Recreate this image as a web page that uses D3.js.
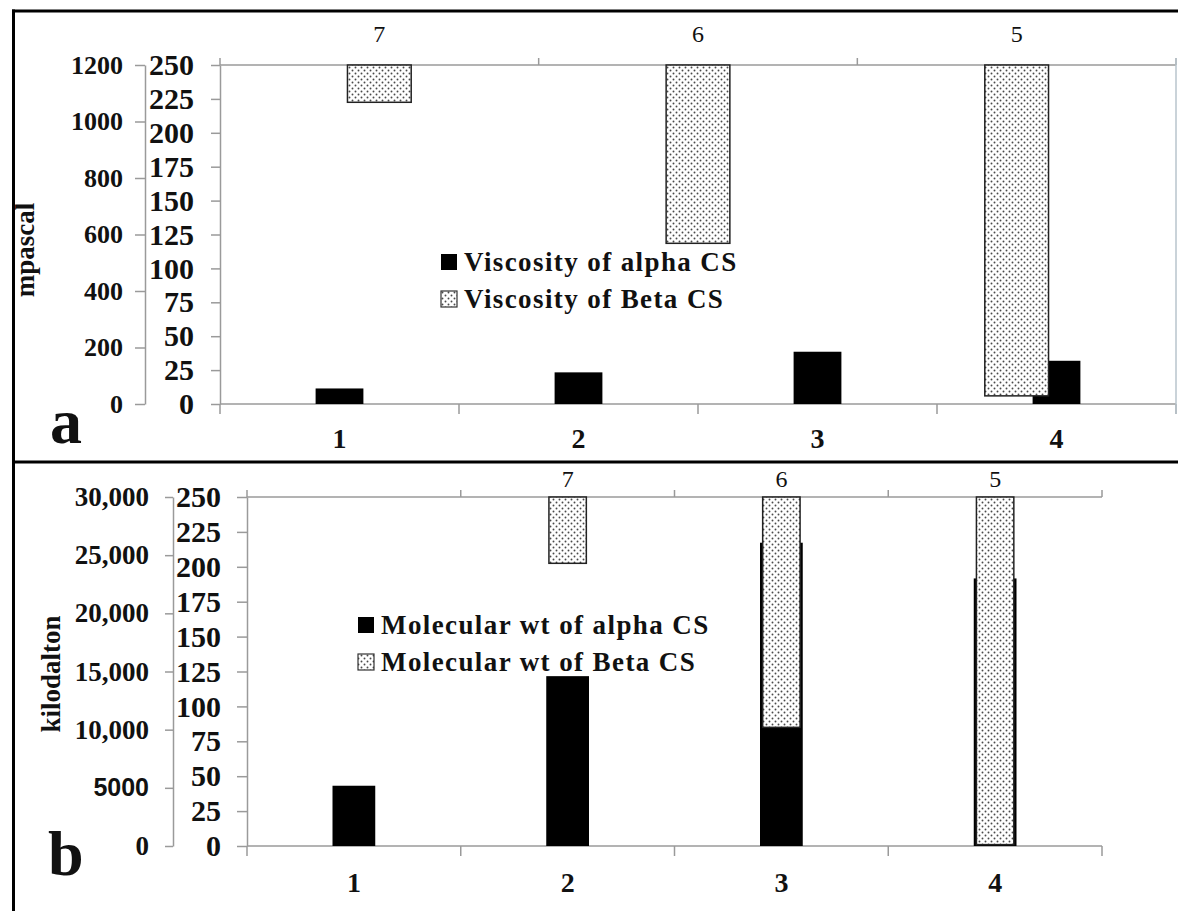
<!DOCTYPE html>
<html>
<head>
<meta charset="utf-8">
<script src="https://cdn.jsdelivr.net/npm/d3@7"></script>
<style>
  body { margin: 0; background: #fff; }
  svg text { font-family: "Liberation Serif", "Times New Roman", serif; fill: #111; }
</style>
</head>
<body>
<div id="chart"></div>
<script>
// bottom categories and secondary (top) categories
const categories = ["1", "2", "3", "4"];
const topCatsA = ["7", "6", "5"];
const topCatsB = ["", "7", "6", "5"];

// panel a: viscosity (mpascal for alpha, secondary reversed axis for beta)
const viscAlpha = [55, 112, 185, 153];
const viscBeta = [27.5, 131.5, 244];
const viscTicks = [0, 200, 400, 600, 800, 1000, 1200];
const viscLabels = ["0", "200", "400", "600", "800", "1000", "1200"];

// panel b: molecular weight (kilodalton)
const mwAlpha = [5180, 14600, 26070, 23000];
const mwBeta = [47.5, 165, 249];
const mwTicks = [0, 5000, 10000, 15000, 20000, 25000, 30000];
const mwLabels = ["0", "5000", "10,000", "15,000", "20,000", "25,000", "30,000"];

const innerTicks = d3.range(0, 251, 25);

const W = 1178, H = 911;
const axisColor = "#9a9a9a";

const svg = d3.select("#chart").append("svg")
    .attr("width", W)
    .attr("height", H);

// dotted fill for the beta bars
const pat = svg.append("defs").append("pattern")
    .attr("id", "dots")
    .attr("patternUnits", "userSpaceOnUse")
    .attr("width", 6)
    .attr("height", 6);
pat.append("rect").attr("width", 6).attr("height", 6).attr("fill", "#fff");
pat.append("circle").attr("cx", 1.5).attr("cy", 1.5).attr("r", 0.95).attr("fill", "#4a4a4a");
pat.append("circle").attr("cx", 4.5).attr("cy", 4.5).attr("r", 0.95).attr("fill", "#4a4a4a");

// frame
svg.append("line").attr("x1", 13.5).attr("x2", 13.5).attr("y1", 9.5).attr("y2", H)
    .attr("stroke", "#000").attr("stroke-width", 3);
svg.append("line").attr("x1", 12).attr("x2", W).attr("y1", 11).attr("y2", 11)
    .attr("stroke", "#000").attr("stroke-width", 3);
svg.append("line").attr("x1", 12).attr("x2", W).attr("y1", 462).attr("y2", 462)
    .attr("stroke", "#000").attr("stroke-width", 3);

function panel(cfg) {
    const g = svg.append("g");

    const x = d3.scaleBand().domain(categories).range([cfg.left, cfg.right]);
    const xTop = d3.scaleBand().domain(cfg.topCats).range([cfg.left, cfg.right]);
    const yOuter = d3.scaleLinear().domain([0, cfg.outerMax]).range([cfg.bottom, cfg.top]);
    const yInner = d3.scaleLinear().domain([0, 250]).range([cfg.bottom, cfg.top]);
    // secondary axis in reverse order: bars hang from the top
    const yBeta = d3.scaleLinear().domain([0, 250]).range([cfg.top, cfg.bottom]);

    // outer axis
    const outer = g.append("g")
        .attr("transform", "translate(" + cfg.outerX + ",0)")
        .call(d3.axisLeft(yOuter)
            .tickValues(cfg.outerTicks)
            .tickFormat((d, i) => cfg.outerLabels[i])
            .tickSize(cfg.outerTick)
            .tickSizeOuter(0)
            .tickPadding(cfg.outerPad));
    outer.selectAll("text")
        .style("font-size", cfg.outerFont + "px")
        .style("font-weight", "bold");
    outer.selectAll("text").filter(d => d === 5000)
        .style("font-family", "'Liberation Sans', Arial, sans-serif")
        .style("font-size", "25px");

    // inner axis
    const inner = g.append("g")
        .attr("transform", "translate(" + cfg.left + ",0)")
        .call(d3.axisLeft(yInner)
            .tickValues(innerTicks)
            .tickSize(cfg.innerTick)
            .tickSizeOuter(0)
            .tickPadding(cfg.innerPad));
    inner.selectAll("text")
        .style("font-size", "30px")
        .style("font-weight", "bold");

    g.selectAll(".domain, .tick line")
        .attr("stroke", axisColor)
        .attr("stroke-width", 1.5);

    // bottom axis: line, boundary ticks, centred labels
    g.append("line")
        .attr("x1", cfg.left).attr("x2", cfg.right)
        .attr("y1", cfg.bottom).attr("y2", cfg.bottom)
        .attr("stroke", axisColor).attr("stroke-width", 1.5);
    const bounds = categories.map(c => x(c)).concat([cfg.right]);
    g.selectAll(".btick").data(bounds).enter().append("line")
        .attr("x1", d => d).attr("x2", d => d)
        .attr("y1", cfg.bottom).attr("y2", cfg.bottom + 10)
        .attr("stroke", axisColor).attr("stroke-width", 1.5);
    g.selectAll(".blabel").data(categories).enter().append("text")
        .attr("x", d => x(d) + x.bandwidth() / 2)
        .attr("y", cfg.bottom + cfg.catDy)
        .attr("text-anchor", "middle")
        .style("font-size", "28px")
        .style("font-weight", "bold")
        .text(d => d);

    // top axis
    g.append("line")
        .attr("x1", cfg.left).attr("x2", cfg.right)
        .attr("y1", cfg.top).attr("y2", cfg.top)
        .attr("stroke", axisColor).attr("stroke-width", 1.5);
    const tBounds = cfg.topCats.map(c => xTop(c)).concat([cfg.right]);
    g.selectAll(".ttick").data(tBounds).enter().append("line")
        .attr("x1", d => d).attr("x2", d => d)
        .attr("y1", cfg.top).attr("y2", cfg.top - 7)
        .attr("stroke", axisColor).attr("stroke-width", 1.5);
    g.selectAll(".tlabel").data(cfg.topCats.filter(c => c !== "")).enter().append("text")
        .attr("x", d => xTop(d) + xTop.bandwidth() / 2)
        .attr("y", cfg.top - cfg.topDy)
        .attr("text-anchor", "middle")
        .style("font-size", "24px")
        .text(d => d);

    if (cfg.rightLine) {
        g.append("line")
            .attr("x1", cfg.right).attr("x2", cfg.right)
            .attr("y1", cfg.top - 7).attr("y2", cfg.bottom + 10)
            .attr("stroke", "#b8c4cc").attr("stroke-width", 1.5);
    }

    // alpha bars
    const aw = x.bandwidth() * 0.2;
    g.selectAll(".alpha").data(cfg.alpha).enter().append("rect")
        .attr("x", (d, i) => x(categories[i]) + x.bandwidth() / 2 - aw / 2)
        .attr("y", d => yOuter(d))
        .attr("width", aw)
        .attr("height", d => cfg.bottom - yOuter(d))
        .attr("fill", "#000");

    // beta bars on the secondary axes
    const betaCats = cfg.topCats.filter(c => c !== "");
    const bw = xTop.bandwidth() * cfg.betaFrac;
    g.selectAll(".beta").data(cfg.beta).enter().append("rect")
        .attr("x", (d, i) => xTop(betaCats[i]) + xTop.bandwidth() / 2 - bw / 2)
        .attr("y", cfg.top)
        .attr("width", bw)
        .attr("height", d => yBeta(d) - cfg.top)
        .attr("fill", "url(#dots)")
        .attr("stroke", "#222")
        .attr("stroke-width", 1.5);

    // legend
    const lg = g.append("g");
    cfg.legend.forEach((txt, i) => {
        const yy = cfg.legendY + i * 37;
        lg.append("rect")
            .attr("x", cfg.legendX).attr("y", yy - 17)
            .attr("width", 16).attr("height", 16)
            .attr("fill", i === 0 ? "#000" : "url(#dots)")
            .attr("stroke", i === 0 ? "none" : "#333")
            .attr("stroke-width", 1.2);
        lg.append("text")
            .attr("x", cfg.legendX + 23).attr("y", yy)
            .style("font-size", "27px")
            .style("font-weight", "bold")
            .style("letter-spacing", "1.4px")
            .text(txt);
    });

    // axis title
    g.append("text")
        .attr("transform", "translate(" + cfg.titleX + "," + cfg.titleY + ") rotate(-90)")
        .attr("text-anchor", "middle")
        .style("font-size", cfg.titleFont + "px")
        .style("font-weight", "bold")
        .text(cfg.title);

    // panel letter
    g.append("text")
        .attr("x", cfg.letterX).attr("y", cfg.letterY)
        .style("font-size", "64px")
        .style("font-weight", "bold")
        .text(cfg.letter);
}

panel({
    left: 220, right: 1176, top: 65, bottom: 404,
    outerX: 145, outerMax: 1200, outerTicks: viscTicks, outerLabels: viscLabels,
    outerTick: 10, outerPad: 12, outerFont: 26,
    innerTick: 9, innerPad: 17,
    topCats: topCatsA, alpha: viscAlpha, beta: viscBeta, betaFrac: 0.2,
    catDy: 44, topDy: 23, rightLine: true,
    legend: ["Viscosity of alpha CS", "Viscosity of Beta CS"],
    legendX: 441, legendY: 271,
    title: "mpascal", titleX: 34, titleY: 250, titleFont: 27,
    letter: "a", letterX: 50, letterY: 443
});

panel({
    left: 247, right: 1102, top: 497, bottom: 846,
    outerX: 173, outerMax: 30000, outerTicks: mwTicks, outerLabels: mwLabels,
    outerTick: 8, outerPad: 16, outerFont: 27,
    innerTick: 10, innerPad: 16,
    topCats: topCatsB, alpha: mwAlpha, beta: mwBeta, betaFrac: 0.175,
    catDy: 46, topDy: 10, rightLine: false,
    legend: ["Molecular wt of alpha CS", "Molecular wt of Beta CS"],
    legendX: 358, legendY: 634,
    title: "kilodalton", titleX: 60, titleY: 674, titleFont: 27,
    letter: "b", letterX: 48, letterY: 875
});
</script>
</body>
</html>
